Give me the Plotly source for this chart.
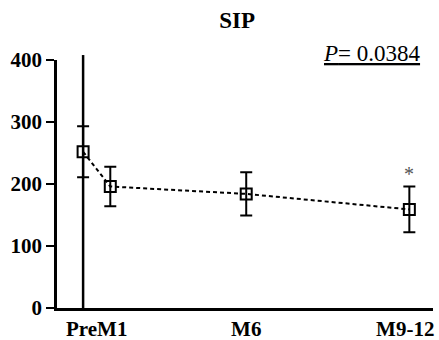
import plotly.graph_objects as go

# Data (months after surgery; PreM1 label sits between Pre and M1)
timepoints = [0, 1, 6, 12]
sip_mean = [252, 196, 184, 159]
sip_err = [41, 32, 35, 37]
tick_vals = [0.5, 6, 11.85]
tick_text = ["PreM1", "M6", "M9-12"]
p_text = "<i>P</i>= 0.0384"

X_RANGE = [-0.96, 12.87]
Y_RANGE = [0, 400]
SERIF = "Liberation Serif"

fig = go.Figure()
fig.add_trace(go.Scatter(
    x=timepoints, y=sip_mean,
    mode="lines+markers",
    line=dict(color="black", width=2, dash="4px,3px"),
    marker=dict(symbol="square-open", size=11, color="black", line=dict(width=2)),
    error_y=dict(type="data", array=sip_err, color="black", thickness=2, width=6),
    showlegend=False,
    cliponaxis=False,
))

# vertical separator line at the pre-operative time point
xpaper = (timepoints[0] - X_RANGE[0]) / (X_RANGE[1] - X_RANGE[0])
fig.add_shape(type="line", xref="paper", yref="paper",
              x0=xpaper, x1=xpaper, y0=0, y1=1.02,
              line=dict(color="black", width=2.5), layer="below")

# significance asterisk
fig.add_annotation(x=timepoints[-1], y=sip_mean[-1] + sip_err[-1], yshift=12,
                   text="*", showarrow=False,
                   font=dict(family=SERIF, size=20, color="#555555"))

fig.add_annotation(xref="paper", yref="paper", x=1.0, y=1.0, xanchor="right", yanchor="bottom",
                   yshift=-8, xshift=-10,
                   text="<u>" + p_text + "</u>", showarrow=False,
                   font=dict(family=SERIF, size=23, color="black"))

fig.update_layout(
    template="none",
    width=439, height=340,
    margin=dict(l=57, r=6, t=60, b=32),
    paper_bgcolor="white", plot_bgcolor="white",
    title=dict(text="<b>SIP</b>", x=0.54, xanchor="center", y=0.94, yanchor="middle",
               font=dict(family=SERIF, size=23, color="black")),
    font=dict(family=SERIF, color="black"),
)
fig.update_xaxes(range=X_RANGE, showgrid=False, zeroline=False, automargin=False,
                 showline=True, linecolor="black", linewidth=2.5,
                 tickvals=tick_vals, ticktext=["<b>%s</b>" % t for t in tick_text],
                 ticks="", ticklabelstandoff=0,
                 tickfont=dict(family=SERIF, size=21, color="black"))
fig.update_yaxes(range=Y_RANGE, showgrid=False, zeroline=False, automargin=False,
                 showline=True, linecolor="black", linewidth=2.5,
                 tickvals=[0, 100, 200, 300, 400],
                 ticktext=["<b>%d</b>" % v for v in [0, 100, 200, 300, 400]],
                 ticks="outside", ticklen=8, tickwidth=2, tickcolor="black",
                 tickfont=dict(family=SERIF, size=21, color="black"))

fig.write_html("out.html", config={"displayModeBar": False},
               post_script="document.body.style.margin='0';")
